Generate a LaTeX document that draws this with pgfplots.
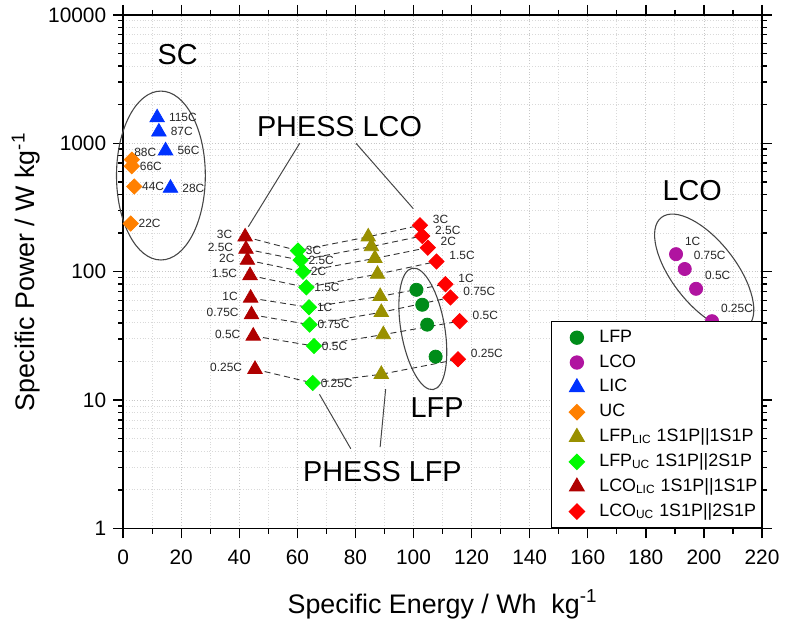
\documentclass[border=0pt]{standalone}
\usepackage{fontspec}
\setmainfont{Liberation Sans}
\usepackage{pgfplots}
\usepackage{pgfplotstable}
\pgfplotsset{compat=1.18}

\definecolor{cLFP}{RGB}{0,140,25}
\definecolor{cLCO}{RGB}{176,20,160}
\definecolor{cLIC}{RGB}{0,50,255}
\definecolor{cUC}{RGB}{255,128,0}
\definecolor{cLFPLIC}{RGB}{153,144,0}
\definecolor{cLFPUC}{RGB}{0,250,0}
\definecolor{cLCOLIC}{RGB}{176,0,0}
\definecolor{cLCOUC}{RGB}{255,0,0}
\definecolor{ell}{RGB}{70,70,70}

\pgfplotstableread{
x y
101.0 72.3
103.0 55.3
104.7 38.7
107.6 21.8
}\tLFP

\pgfplotstableread{
x y lab
190.4 137 1C
193.4 105 0.75C
197.3 73.6 0.5C
202.8 41.2 0.25C
}\tLCO

\pgfplotstableread{
x y lab
11.7 1585 115C
12.3 1228 87C
14.6 876 56C
16.3 448 28C
}\tLIC

\pgfplotstableread{
x y lab
3.0 746 {}
3.0 663 66C
3.8 461 44C
2.6 237 22C
}\tUC

\pgfplotstableread{
x y lab
84.4 187 3C
85.5 157 2.5C
86.7 127 2C
87.6 95.7 1.5C
88.5 64.3 1C
88.9 48.3 0.75C
89.6 32.4 0.5C
88.9 15.9 0.25C
}\tLFPLIC

\pgfplotstableread{
x y lab
60.2 146 3C
61.1 123 2.5C
61.9 100 2C
63.1 75.5 1.5C
64.0 52.8 1C
64.2 38.7 0.75C
65.7 26.4 0.5C
65.3 13.6 0.25C
}\tLFPUC

\pgfplotstableread{
x y lab
42.0 187 3C
42.3 150 2.5C
42.8 123 2C
43.7 93.5 1.5C
43.9 62.4 1C
44.2 46.3 0.75C
44.8 31.6 0.5C
45.4 17.4 0.25C
}\tLCOLIC

\pgfplotstableread{
x y lab
102.2 230 3C
103.0 190 2.5C
104.9 154 2C
107.9 120 1.5C
111.0 80 1C
112.7 63 0.75C
115.9 41.2 0.5C
115.3 20.8 0.25C
}\tLCOUC

\begin{document}
\begin{tikzpicture}
\begin{axis}[
  scale only axis, width=321.5pt, height=258.5pt,
  xmin=0, xmax=220, ymode=log, ymin=1, ymax=10000,
  xtick={0,20,...,220}, minor x tick num=1,
  log ticks with fixed point,
  /pgf/number format/1000 sep={},
  /pgf/number format/assume math mode=true,
  grid=both,
  major grid style={densely dotted, black!22, line width=0.4pt},
  minor grid style={densely dotted, black!15, line width=0.4pt},
  tick align=outside, major tick length=5pt, minor tick length=2.5pt,
  axis line style={line width=0.8pt},
  every tick/.style={black, line width=0.7pt},
  ticklabel style={font=\fontsize{10.5}{12}\selectfont},
  xticklabel style={yshift=-2pt},
  xlabel={Specific Energy / Wh\ \ kg\textsuperscript{-1}},
  ylabel={Specific Power / W kg\textsuperscript{-1}},
  label style={font=\fontsize{13.5}{16}\selectfont},
  xlabel style={yshift=-6pt},
  ylabel style={yshift=-3pt},
  clip=false,
  legend cell align=left,
  legend image code/.code={%
    \path (-12.5pt,0pt) (9pt,0pt);
    \draw[mark repeat=2,mark phase=2,#1] plot coordinates {(-5pt,0pt) (0pt,0pt) (5pt,0pt)};},
  legend style={at={(1,0)}, anchor=south east, draw=black, line width=0.6pt,
    fill=white, font=\fontsize{9}{10}\selectfont, inner xsep=0pt,
    nodes={text height=7pt, text depth=2.5pt, inner ysep=1.5pt},
    row sep=0pt},
  every node near coord/.append style={font=\fontsize{6}{7}\selectfont, text=black!85},
]
% bounding box to match reference proportions
\path (rel axis cs:-0.1928,-0.178) rectangle (rel axis cs:1.0295,1.029);

% dashed connection lines
\addplot[forget plot, black!80, densely dashed, line width=0.45pt] coordinates {(42.0,187) (60.2,146) (84.4,187) (102.2,230)};
\addplot[forget plot, black!80, densely dashed, line width=0.45pt] coordinates {(42.3,150) (61.1,123) (85.5,157) (103.0,190)};
\addplot[forget plot, black!80, densely dashed, line width=0.45pt] coordinates {(42.8,123) (61.9,100) (86.7,127) (104.9,154)};
\addplot[forget plot, black!80, densely dashed, line width=0.45pt] coordinates {(43.7,93.5) (63.1,75.5) (87.6,95.7) (107.9,120)};
\addplot[forget plot, black!80, densely dashed, line width=0.45pt] coordinates {(43.9,62.4) (64.0,52.8) (88.5,64.3) (111.0,80)};
\addplot[forget plot, black!80, densely dashed, line width=0.45pt] coordinates {(44.2,46.3) (64.2,38.7) (88.9,48.3) (112.7,63)};
\addplot[forget plot, black!80, densely dashed, line width=0.45pt] coordinates {(44.8,31.6) (65.7,26.4) (89.6,32.4) (115.9,41.2)};
\addplot[forget plot, black!80, densely dashed, line width=0.45pt] coordinates {(45.4,17.4) (65.3,13.6) (88.9,15.9) (115.3,20.8)};

% ellipses and annotation lines
\draw[ell, line width=0.55pt] (axis cs:13.0,561) ellipse [x radius=22.35pt, y radius=42.5pt];
\draw[ell, line width=0.55pt] (axis cs:103.2,35.9) ellipse [x radius=11pt, y radius=31pt, rotate=9.8];
\draw[ell, line width=0.55pt] (axis cs:200.1,99) ellipse [x radius=35pt, y radius=16pt, rotate=-52];
\draw[ell, line width=0.5pt] (axis cs:60.8,1000) -- (axis cs:43.1,224);
\draw[ell, line width=0.5pt] (axis cs:80.2,1000) -- (axis cs:99.9,310);
\draw[ell, line width=0.5pt] (axis cs:67.6,11.1) -- (axis cs:78.4,4.18);
\draw[ell, line width=0.5pt] (axis cs:90.4,12.2) -- (axis cs:88.5,4.31);

% series
\addplot[only marks, mark=*, mark size=3.3pt, draw=cLFP, fill=cLFP] table[x=x,y=y] {\tLFP};
\addlegendentry{LFP}

\addplot[only marks, mark=*, mark size=3.3pt, draw=cLCO, fill=cLCO,
  nodes near coords, point meta=explicit symbolic,
  every node near coord/.append style={anchor=south west, xshift=1pt, yshift=1pt}]
  table[x=x,y=y,meta=lab] {\tLCO};
\addlegendentry{LCO}

\addplot[only marks, mark=triangle*, mark size=4.2pt, draw=cLIC, fill=cLIC,
  nodes near coords, point meta=explicit symbolic,
  every node near coord/.append style={anchor=west, xshift=2.5pt}]
  table[x=x,y=y,meta=lab] {\tLIC};
\addlegendentry{LIC}

\addplot[only marks, mark=square*, mark options={rotate=45}, mark size=2.7pt, draw=cUC, fill=cUC,
  nodes near coords, point meta=explicit symbolic,
  every node near coord/.append style={anchor=west, xshift=0.5pt}]
  table[x=x,y=y,meta=lab] {\tUC};
\addlegendentry{UC}

\addplot[only marks, mark=triangle*, mark size=4.2pt, draw=cLFPLIC, fill=cLFPLIC] table[x=x,y=y] {\tLFPLIC};
\addlegendentry{LFP\textsubscript{LIC} 1S1P||1S1P}

\addplot[only marks, mark=square*, mark options={rotate=45}, mark size=2.7pt, draw=cLFPUC, fill=cLFPUC,
  nodes near coords, point meta=explicit symbolic,
  every node near coord/.append style={anchor=west, xshift=0.5pt}]
  table[x=x,y=y,meta=lab] {\tLFPUC};
\addlegendentry{LFP\textsubscript{UC} 1S1P||2S1P}

\addplot[only marks, mark=triangle*, mark size=4.2pt, draw=cLCOLIC, fill=cLCOLIC,
  nodes near coords, point meta=explicit symbolic,
  every node near coord/.append style={anchor=east, xshift=-3pt, yshift=1pt}]
  table[x=x,y=y,meta=lab] {\tLCOLIC};
\addlegendentry{LCO\textsubscript{LIC} 1S1P||1S1P}

\addplot[only marks, mark=square*, mark options={rotate=45}, mark size=2.7pt, draw=cLCOUC, fill=cLCOUC,
  nodes near coords, point meta=explicit symbolic,
  every node near coord/.append style={anchor=west, xshift=3pt, yshift=3pt}]
  table[x=x,y=y,meta=lab] {\tLCOUC};
\addlegendentry{LCO\textsubscript{UC} 1S1P||2S1P}

% annotations
\node[anchor=south west, font=\fontsize{6}{7}\selectfont, text=black!85, inner sep=1pt] at (axis cs:3.0,760) {88C};
\node[font=\fontsize{14.5}{16}\selectfont] at (axis cs:18.8,4900) {SC};
\node[font=\fontsize{14.5}{16}\selectfont] at (axis cs:74.5,1349) {PHESS LCO};
\node[font=\fontsize{14.5}{16}\selectfont] at (axis cs:89.3,2.76) {PHESS LFP};
\node[font=\fontsize{14.5}{16}\selectfont] at (axis cs:108.1,8.79) {LFP};
\node[font=\fontsize{14.5}{16}\selectfont] at (axis cs:196.0,427) {LCO};
\end{axis}
\end{tikzpicture}
\end{document}
